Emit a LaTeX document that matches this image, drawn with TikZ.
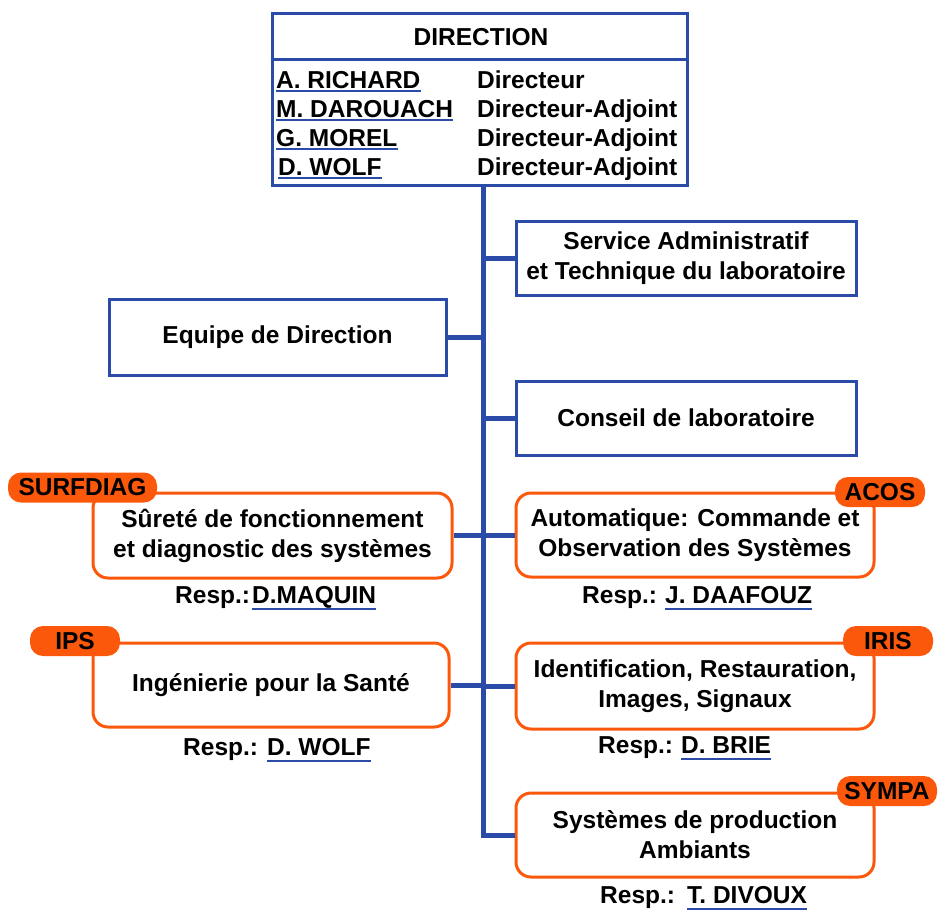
\documentclass[tikz,border=0pt]{standalone}
\usepackage{fontspec}
\setmainfont{Liberation Sans}
\usepackage{tikz}
\usepackage{xcolor}
\definecolor{ColA}{RGB}{42,76,168}
\definecolor{ColB}{RGB}{252,88,12}
\tikzstyle{TextLab}=[inner sep=0pt,font=\fontsize{24.5}{30}\selectfont\bfseries,text=black]
\tikzstyle{BoxBlue}=[rectangle,draw=ColA,line width=3pt,fill=white,TextLab,align=center]
\tikzstyle{BoxTeam}=[rectangle,rounded corners=15pt,draw=ColB,line width=3pt,fill=white,
TextLab,align=center]
\tikzstyle{TagTeam}=[rectangle,rounded corners=13pt,fill=ColB,TextLab,minimum height=30pt]
\tikzstyle{EdgeBlue}=[ColA,line width=5pt]
\tikzstyle{LineName}=[ColA,line width=2.5pt]

\begin{document}
\begin{tikzpicture}[x=1pt,y=-1pt]
        \useasboundingbox(0,0)rectangle(939,911);
        % direction
        \node[BoxBlue,minimum width=415pt,minimum height=172pt](dir)at(479.5,99.5){};
        \coordinate(hd)at(0,59);
        \draw[ColA,line width=3pt](dir.west|-hd)--(dir.east|-hd);
        \node[TextLab,anchor=base](dirt)at(481,45){DIRECTION};
        \node[TextLab,anchor=base west](n1)at(276,88){A. RICHARD};
        \node[TextLab,anchor=base west](n2)at(276,117){M. DAROUACH};
        \node[TextLab,anchor=base west](n3)at(276,146){G. MOREL};
        \node[TextLab,anchor=base west](n4)at(278,175){D. WOLF};
        \node[TextLab,anchor=base west](f1)at(477,88){Directeur};
        \node[TextLab,anchor=base west](f2)at(477,117){Directeur-Adjoint};
        \node[TextLab,anchor=base west](f3)at(477,146){Directeur-Adjoint};
        \node[TextLab,anchor=base west](f4)at(477,175){Directeur-Adjoint};
        \foreach \n in {n1,n2,n3,n4}
            \draw[LineName]([yshift=-3pt]\n.base west)--([yshift=-3pt]\n.base east);
        % services
        \node[BoxBlue,minimum width=340pt,minimum height=74pt](serv)at(686,258){Service Administratif\\et Technique du laboratoire};
        \node[BoxBlue,minimum width=337pt,minimum height=76pt](equip)at(277.5,337){Equipe de Direction};
        \node[BoxBlue,minimum width=340pt,minimum height=74pt](cons)at(686,418){Conseil de laboratoire};
        % equipes
        \node[BoxTeam,minimum width=359pt,minimum height=85pt](surf)at(272.5,535.5){S\^uret\'e de fonctionnement\\et diagnostic des syst\`emes};
        \node[BoxTeam,minimum width=358pt,minimum height=84pt](acos)at(695,535){Automatique: Commande et\\Observation des Syst\`emes};
        \node[BoxTeam,minimum width=356pt,minimum height=84pt](ips)at(271,685){Ing\'enierie pour la Sant\'e};
        \node[BoxTeam,minimum width=358pt,minimum height=86pt](iris)at(695,686){Identification, Restauration,\\Images, Signaux};
        \node[BoxTeam,minimum width=358pt,minimum height=84pt](sympa)at(695,835){Syst\`emes de production\\Ambiants};
        \node[TagTeam,minimum width=149pt](tsurf)at(82.5,487.5){SURFDIAG};
        \node[TagTeam,minimum width=90pt](tacos)at(880,492){ACOS};
        \node[TagTeam,minimum width=90pt](tips)at(75,641){IPS};
        \node[TagTeam,minimum width=90pt](tiris)at(888,641){IRIS};
        \node[TagTeam,minimum width=100pt](tsympa)at(887,791){SYMPA};
        % responsables
        \node[TextLab,anchor=base west](rsurf)at(175,603){Resp.:};
        \node[TextLab,anchor=base west](msurf)at(252,603){D.MAQUIN};
        \node[TextLab,anchor=base west](racos)at(582,603){Resp.:};
        \node[TextLab,anchor=base west](macos)at(665,603){J. DAAFOUZ};
        \node[TextLab,anchor=base west](rips)at(183,755){Resp.:};
        \node[TextLab,anchor=base west](mips)at(267,755){D. WOLF};
        \node[TextLab,anchor=base west](riris)at(598,753){Resp.:};
        \node[TextLab,anchor=base west](miris)at(681,753){D. BRIE};
        \node[TextLab,anchor=base west](rsympa)at(600,903){Resp.:};
        \node[TextLab,anchor=base west](msympa)at(687,903){T. DIVOUX};
        \foreach \n in {msurf,macos,mips,miris,msympa}
            \draw[LineName]([yshift=-6pt]\n.base west)--([yshift=-6pt]\n.base east);
        % liens
        \coordinate(trunk)at(483,186);
        \draw[EdgeBlue](trunk)|-(sympa.west);
        \draw[EdgeBlue](serv.west)--(serv.west-|trunk);
        \draw[EdgeBlue](equip.east)--(equip.east-|trunk);
        \draw[EdgeBlue](cons.west)--(cons.west-|trunk);
        \draw[EdgeBlue](surf.east)--(surf.east-|trunk);
        \draw[EdgeBlue](acos.west)--(acos.west-|trunk);
        \draw[EdgeBlue](ips.east)--(ips.east-|trunk);
        \draw[EdgeBlue](iris.west)--(iris.west-|trunk);
    \end{tikzpicture}
\end{document}
